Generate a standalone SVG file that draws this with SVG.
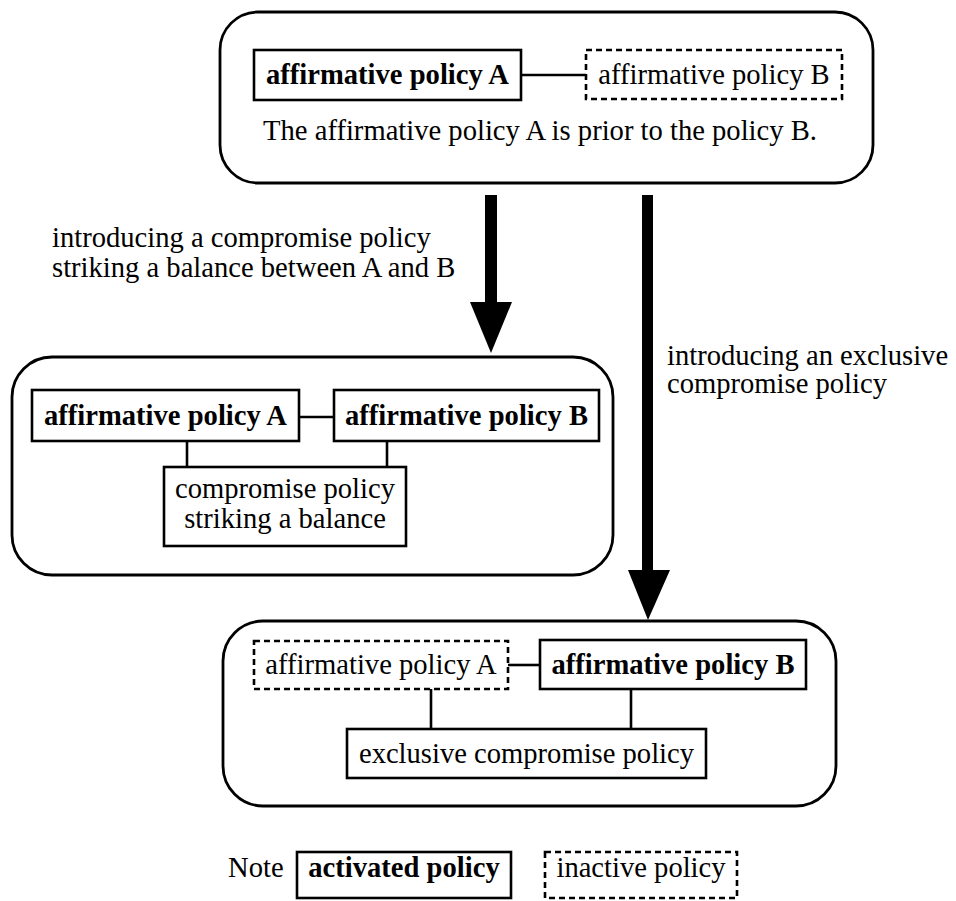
<svg xmlns="http://www.w3.org/2000/svg" width="956" height="901" viewBox="0 0 956 901">
  <style>
    text { font-family: "Liberation Serif", "Times New Roman", serif; font-size: 28.6px; fill: #000; }
    .b { font-weight: bold; }
    .m { text-anchor: middle; }
    .state { fill: #fff; stroke: #000; stroke-width: 2.8; }
    .on { fill: #fff; stroke: #000; stroke-width: 2.6; }
    .off { fill: #fff; stroke: #000; stroke-width: 2.6; stroke-dasharray: 6 4; }
    .link { stroke: #000; stroke-width: 2.6; fill: none; }
    .flow { fill: #000; stroke: none; }
  </style>
  <rect width="956" height="901" fill="#fff"/>

  <!-- state 1: A prior to B -->
  <g id="state-initial">
    <rect class="state" x="220" y="12" width="653" height="171" rx="38"/>
    <g id="s1-policy-a">
      <rect class="on" x="254" y="50" width="267" height="50"/>
      <text class="b m" x="387.5" y="84">affirmative policy A</text>
    </g>
    <g id="s1-policy-b">
      <rect class="off" x="586" y="50" width="256" height="49"/>
      <text class="m" x="714" y="84">affirmative policy B</text>
    </g>
    <text class="m" x="540" y="140">The affirmative policy A is prior to the policy B.</text>
  </g>

  <!-- state 2: balanced compromise -->
  <g id="state-balance">
    <rect class="state" x="12" y="357" width="601" height="218" rx="40"/>
    <g id="s2-policy-a">
      <rect class="on" x="32" y="390" width="267" height="51"/>
      <text class="b m" x="165.5" y="425">affirmative policy A</text>
    </g>
    <g id="s2-policy-b">
      <rect class="on" x="334" y="390" width="265" height="51"/>
      <text class="b m" x="466.5" y="425">affirmative policy B</text>
    </g>
    <g id="s2-compromise">
      <rect class="on" x="164" y="467" width="242" height="79"/>
      <text class="m" x="285" y="498">compromise policy</text>
      <text class="m" x="285" y="528">striking a balance</text>
    </g>
  </g>

  <!-- state 3: exclusive compromise -->
  <g id="state-exclusive">
    <rect class="state" x="223" y="621" width="613" height="185" rx="40"/>
    <g id="s3-policy-a">
      <rect class="off" x="254" y="641" width="254" height="48"/>
      <text class="m" x="381" y="674">affirmative policy A</text>
    </g>
    <g id="s3-policy-b">
      <rect class="on" x="540" y="640" width="266" height="49"/>
      <text class="b m" x="673" y="674">affirmative policy B</text>
    </g>
    <g id="s3-compromise">
      <rect class="on" x="347" y="729" width="359" height="49"/>
      <text class="m" x="526.5" y="763">exclusive compromise policy</text>
    </g>
  </g>

  <!-- legend -->
  <g id="legend">
    <text x="228" y="877">Note</text>
    <g id="legend-active">
      <rect class="on" x="297" y="852" width="214" height="46"/>
      <text class="b m" x="404" y="877">activated policy</text>
    </g>
    <g id="legend-inactive">
      <rect class="off" x="545" y="852" width="192" height="46"/>
      <text class="m" x="641" y="877">inactive policy</text>
    </g>
  </g>

  <!-- connectors -->
  <g id="connectors">
    <line class="link" x1="521" y1="75" x2="586" y2="75"/>
    <line class="link" x1="299" y1="417" x2="334" y2="417"/>
    <line class="link" x1="187" y1="441" x2="187" y2="467"/>
    <line class="link" x1="387" y1="441" x2="387" y2="467"/>
    <line class="link" x1="508" y1="665" x2="540" y2="665"/>
    <line class="link" x1="431" y1="689" x2="431" y2="729"/>
    <line class="link" x1="631" y1="689" x2="631" y2="729"/>

    <g id="flow-balance">
      <rect class="flow" x="485" y="195" width="12" height="108"/>
      <polygon class="flow" points="470,302 512,302 491,353"/>
      <text x="52" y="247">introducing a compromise policy</text>
      <text x="52" y="277">striking a balance between A and B</text>
    </g>
    <g id="flow-exclusive">
      <rect class="flow" x="642" y="195" width="11" height="376"/>
      <polygon class="flow" points="628,570 670,570 648,620"/>
      <text x="667" y="365">introducing an exclusive</text>
      <text x="667" y="393">compromise policy</text>
    </g>
  </g>
</svg>
